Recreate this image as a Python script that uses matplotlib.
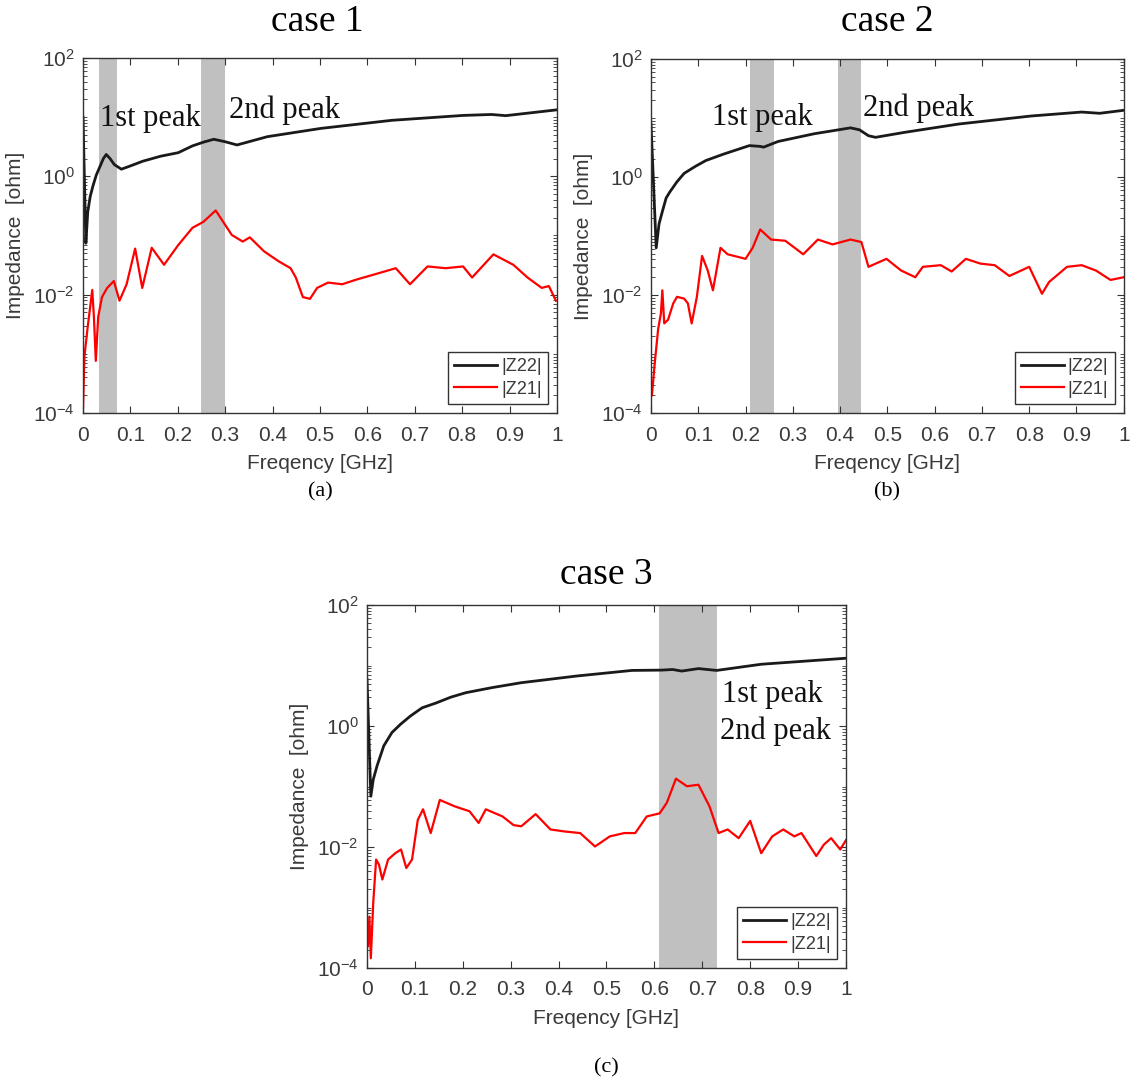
import matplotlib
matplotlib.use('Agg')
import matplotlib.pyplot as plt
from matplotlib.ticker import LogLocator, FixedLocator, NullFormatter

plt.rcParams['font.family'] = 'Liberation Sans'
plt.rcParams['mathtext.fontset'] = 'custom'
plt.rcParams['mathtext.rm'] = 'Liberation Sans'
plt.rcParams['mathtext.it'] = 'Liberation Sans'

# x ticks (GHz)
xticks = [0, 0.1, 0.2, 0.3, 0.4, 0.5, 0.6, 0.7, 0.8, 0.9, 1]
xtick_labels = ['0', '0.1', '0.2', '0.3', '0.4', '0.5', '0.6', '0.7', '0.8', '0.9', '1']
yticks = [1e-4, 1e-2, 1e0, 1e2]

# ---- case 1 ----
z22_f_a = [0, 0.006, 0.01, 0.015, 0.021, 0.028, 0.036, 0.043, 0.049, 0.057, 0.066, 0.081,
           0.1, 0.126, 0.164, 0.201, 0.231, 0.255, 0.276, 0.299, 0.325, 0.389, 0.502,
           0.652, 0.802, 0.862, 0.892, 1.0]
z22_a = [10, 0.074, 0.25, 0.45, 0.69, 1.05, 1.48, 2.0, 2.34, 2.0, 1.58, 1.32,
         1.5, 1.8, 2.19, 2.51, 3.27, 3.8, 4.23, 3.86, 3.39, 4.68, 6.46,
         8.85, 10.7, 11.1, 10.6, 13.3]
z21_f_a = [0, 0.003, 0.01, 0.0195, 0.023, 0.027, 0.032, 0.04, 0.051, 0.065, 0.077, 0.092,
           0.110, 0.125, 0.145, 0.171, 0.201, 0.231, 0.254, 0.280, 0.314, 0.337, 0.352,
           0.382, 0.412, 0.438, 0.449, 0.464, 0.479, 0.494, 0.517, 0.547, 0.577, 0.615,
           0.660, 0.690, 0.727, 0.765, 0.802, 0.821, 0.866, 0.908, 0.938, 0.968, 0.983, 0.998]
z21_a = [1.2e-4, 9.1e-4, 2.9e-3, 1.2e-2, 4.2e-3, 7.6e-4, 4.2e-3, 9.1e-3, 1.3e-2, 1.7e-2,
         7.9e-3, 1.5e-2, 6.0e-2, 1.3e-2, 6.2e-2, 3.2e-2, 6.9e-2, 0.135, 0.17, 0.265, 0.102,
         0.079, 0.093, 0.054, 0.037, 0.028, 0.0195, 0.0091, 0.0085, 0.013, 0.016, 0.015,
         0.018, 0.022, 0.028, 0.015, 0.030, 0.028, 0.030, 0.0195, 0.048, 0.032, 0.0195,
         0.013, 0.014, 0.0079]
spans_a = [(0.033, 0.072), (0.25, 0.30)]

# ---- case 2 ----
z22_f_b = [0, 0.011, 0.017, 0.024, 0.032, 0.04, 0.055, 0.07, 0.093, 0.116, 0.154, 0.208,
           0.231, 0.238, 0.269, 0.345, 0.422, 0.441, 0.46, 0.475, 0.536, 0.651, 0.804,
           0.911, 0.949, 1.0]
z22_b = [7.9, 0.063, 0.16, 0.26, 0.44, 0.56, 0.83, 1.15, 1.5, 1.9, 2.45, 3.4,
         3.3, 3.2, 4.0, 5.4, 6.8, 6.3, 5.0, 4.7, 5.7, 7.9, 10.8,
         12.6, 12.0, 13.5]
z21_f_b = [0.002, 0.008, 0.015, 0.021, 0.024, 0.028, 0.036, 0.047, 0.055, 0.07, 0.078, 0.086,
           0.097, 0.108, 0.12, 0.131, 0.147, 0.162, 0.2, 0.215, 0.231, 0.254, 0.284, 0.322,
           0.353, 0.384, 0.422, 0.445, 0.46, 0.498, 0.529, 0.559, 0.575, 0.613, 0.636, 0.666,
           0.697, 0.727, 0.758, 0.80, 0.827, 0.842, 0.88, 0.911, 0.941, 0.972, 1.0]
z21_b = [2.0e-4, 7.1e-4, 2.6e-3, 4.9e-3, 1.2e-2, 3.3e-3, 3.8e-3, 7.2e-3, 9.3e-3, 8.7e-3,
         7.2e-3, 3.3e-3, 9.3e-3, 0.046, 0.026, 0.012, 0.063, 0.049, 0.041, 0.063, 0.129,
         0.087, 0.083, 0.049, 0.087, 0.072, 0.087, 0.079, 0.030, 0.041, 0.026, 0.020, 0.030,
         0.032, 0.025, 0.041, 0.034, 0.032, 0.021, 0.030, 0.0105, 0.0166, 0.030, 0.032,
         0.026, 0.018, 0.02]
spans_b = [(0.21, 0.26), (0.395, 0.445)]

# ---- case 3 ----
z22_f_c = [0, 0.008, 0.013, 0.021, 0.035, 0.052, 0.07, 0.09, 0.115, 0.144, 0.175, 0.206,
           0.26, 0.322, 0.437, 0.553, 0.615, 0.638, 0.657, 0.692, 0.73, 0.823, 1.0]
z22_c = [5.9, 0.069, 0.13, 0.22, 0.47, 0.78, 1.07, 1.45, 2.0, 2.4, 3.0, 3.55,
         4.3, 5.2, 6.7, 8.3, 8.4, 8.6, 8.1, 8.9, 8.3, 10.5, 13.2]
z21_f_c = [0.002, 0.005, 0.008, 0.013, 0.019, 0.025, 0.032, 0.044, 0.059, 0.071, 0.082, 0.094,
           0.106, 0.117, 0.133, 0.152, 0.183, 0.214, 0.233, 0.248, 0.283, 0.306, 0.322, 0.352,
           0.383, 0.414, 0.445, 0.476, 0.507, 0.537, 0.56, 0.584, 0.611, 0.626, 0.645, 0.668,
           0.692, 0.715, 0.734, 0.753, 0.776, 0.8, 0.823, 0.846, 0.869, 0.892, 0.907, 0.938,
           0.954, 0.969, 0.988, 1.0]
z21_c = [2.3e-4, 7.1e-4, 1.45e-4, 1.2e-3, 6.2e-3, 5.1e-3, 2.9e-3, 6.2e-3, 7.9e-3, 9.1e-3,
         4.5e-3, 6.2e-3, 0.028, 0.042, 0.017, 0.060, 0.047, 0.039, 0.025, 0.042, 0.032,
         0.023, 0.022, 0.035, 0.0195, 0.018, 0.017, 0.0102, 0.015, 0.017, 0.017, 0.032,
         0.036, 0.054, 0.135, 0.101, 0.107, 0.047, 0.017, 0.0195, 0.014, 0.027, 0.0079,
         0.015, 0.0195, 0.015, 0.017, 0.0071, 0.011, 0.014, 0.0091, 0.013]
spans_c = [(0.61, 0.73)]


def draw_panel(ax, f22, z22, f21, z21, spans):
    for x0, x1 in spans:
        ax.axvspan(x0, x1, color='#c0c0c0', lw=0, zorder=0)
    ax.plot(f22, z22, color='#1a1a1a', lw=2.0, label='|Z22|')
    ax.plot(f21, z21, color='#ff0000', lw=1.6, label='|Z21|')
    ax.set_yscale('log')
    ax.set_xlim(0, 1)
    ax.set_ylim(1e-4, 1e2)
    ax.xaxis.set_major_locator(FixedLocator(xticks))
    ax.set_xticklabels(xtick_labels)
    ax.yaxis.set_major_locator(FixedLocator(yticks))
    ax.yaxis.set_minor_locator(LogLocator(base=10, subs=[1, 2, 3, 4, 5, 6, 7, 8, 9], numticks=100))
    ax.yaxis.set_minor_formatter(NullFormatter())
    ax.tick_params(which='both', direction='in', top=True, right=True,
                   labelsize=15, colors='#333333', labelcolor='#3a3a3a')
    ax.tick_params(axis='x', which='major', pad=9)
    ax.tick_params(axis='y', which='major', pad=6)
    ax.tick_params(which='major', length=5)
    ax.tick_params(which='minor', length=3)
    for s in ax.spines.values():
        s.set_color('#333333')
        s.set_linewidth(1.0)
    ax.set_xlabel('Freqency [GHz]', fontsize=15, color='#3a3a3a', labelpad=7)
    ax.set_ylabel('Impedance  [ohm]', fontsize=15, color='#3a3a3a', labelpad=6)
    leg = ax.legend(loc='lower right', fontsize=13, handlelength=2.4, fancybox=False,
                    framealpha=1, edgecolor='#333333', borderaxespad=0.5,
                    handletextpad=0.2, borderpad=0.35, labelspacing=0.3)
    for t in leg.get_texts():
        t.set_color('#3a3a3a')


fig = plt.figure(figsize=(11.31, 10.88), dpi=100)
ax_a = fig.add_axes([0.0734, 0.6204, 0.419, 0.3263])
ax_b = fig.add_axes([0.5756, 0.6204, 0.418, 0.3254])
ax_c = fig.add_axes([0.3245, 0.1103, 0.4235, 0.3336])

draw_panel(ax_a, z22_f_a, z22_a, z21_f_a, z21_a, spans_a)
draw_panel(ax_b, z22_f_b, z22_b, z21_f_b, z21_b, spans_b)
draw_panel(ax_c, z22_f_c, z22_c, z21_f_c, z21_c, spans_c)

serif = 'Liberation Serif'
ann = dict(family=serif, fontsize=22, va='center', ha='left', color='#111111')
ax_a.text(0.036, 9.4, '1st peak', **ann)
ax_a.text(0.309, 13, '2nd peak', **ann)
ax_b.text(0.13, 10, '1st peak', **ann)
ax_b.text(0.448, 14.8, '2nd peak', **ann)
ax_c.text(0.742, 3.3, '1st peak', **ann)
ax_c.text(0.736, 0.82, '2nd peak', **ann)

fig.text(317 / 1131, 1 - 22 / 1088, 'case 1', family=serif, fontsize=27, ha='center', va='center')
fig.text(887 / 1131, 1 - 22 / 1088, 'case 2', family=serif, fontsize=27, ha='center', va='center')
fig.text(606 / 1131, 1 - 575 / 1088, 'case 3', family=serif, fontsize=27, ha='center', va='center')
fig.text(320 / 1131, 1 - 492 / 1088, '(a)', family=serif, fontsize=16, ha='center', va='center')
fig.text(887 / 1131, 1 - 492 / 1088, '(b)', family=serif, fontsize=16, ha='center', va='center')
fig.text(606 / 1131, 1 - 1068 / 1088, '(c)', family=serif, fontsize=16, ha='center', va='center')

fig.savefig('out.png', dpi=100, facecolor='white')
